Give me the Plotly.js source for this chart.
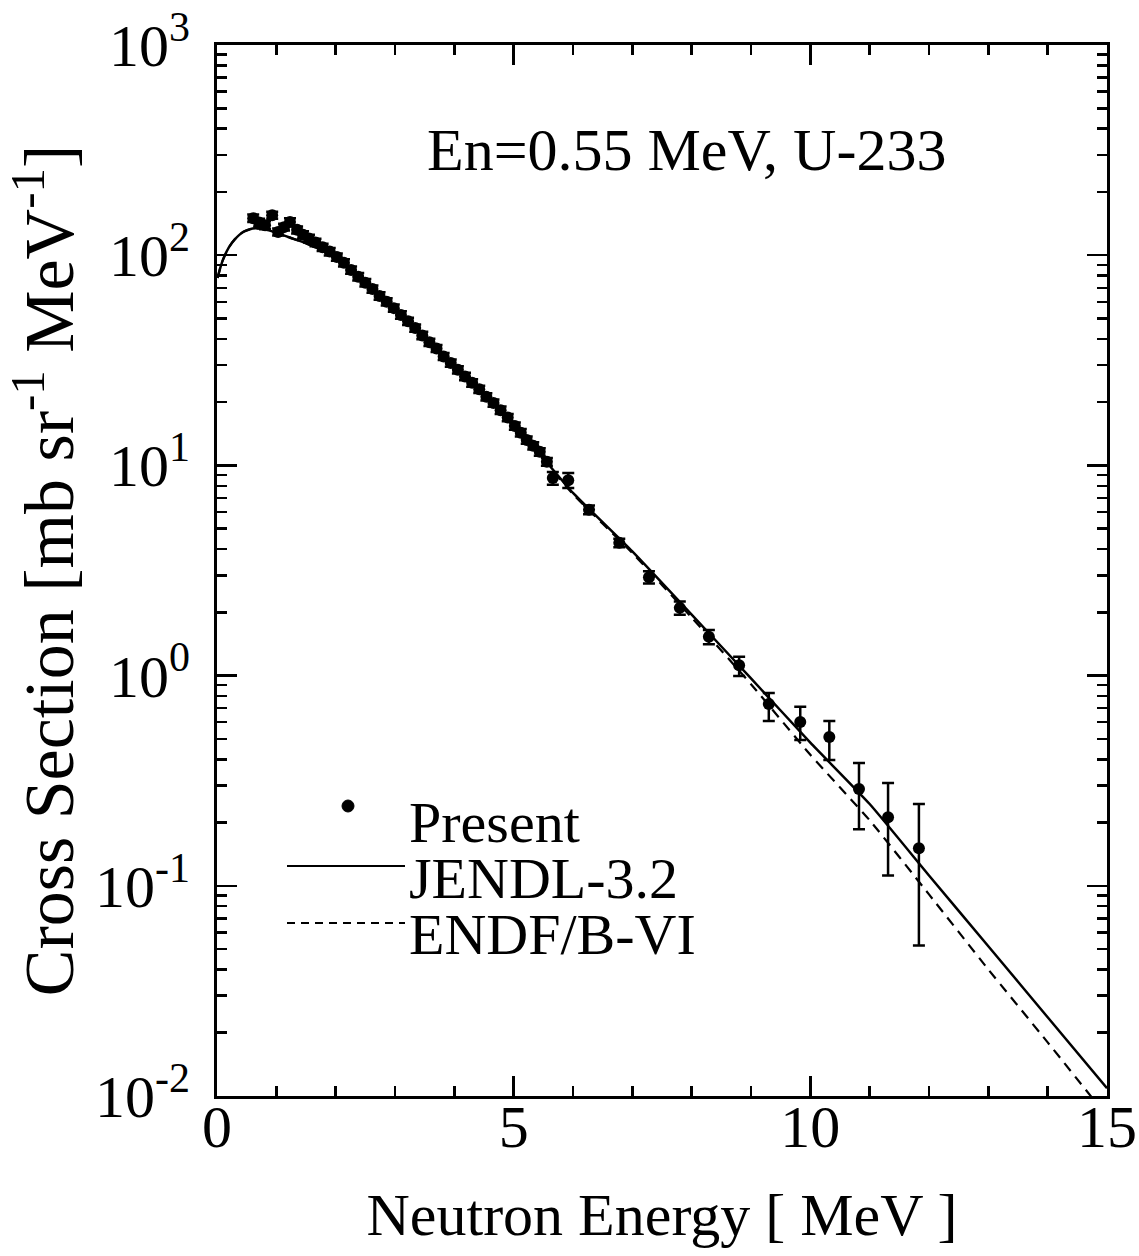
<!DOCTYPE html>
<html>
<head>
<meta charset="utf-8">
<script src="https://cdn.plot.ly/plotly-3.0.1.min.js"></script>
<style>
  html, body { margin: 0; padding: 0; background: #ffffff; }
  #chart { width: 1139px; height: 1256px; }
</style>
</head>
<body>
<div id="chart"></div>
<script>
// ---- Data ----
// Present measurement: neutron energy [MeV]
var presentE = [0.61,0.71,0.81,0.93,1.03,1.13,1.23,1.35,1.45,1.55,
                1.66,1.78,1.90,2.02,2.14,2.26,2.38,2.50,2.62,2.74,
                2.86,2.98,3.10,3.22,3.34,3.46,3.58,3.70,3.82,3.94,
                4.06,4.18,4.30,4.42,4.54,4.66,4.78,4.90,5.02,5.12,
                5.22,5.33,5.44,5.56,5.66,5.92,6.27,6.78,7.28,7.80,
                8.29,8.80,9.30,9.83,10.32,10.82,11.31,11.83];
// Present measurement: cross section [mb/sr/MeV]
var presentXS = [150,143,139,155,129,136,144,132,125,120,
                 115,109,104,98,92,85,79,74,69,64,
                 60,56,52,48.5,45,41.5,38.5,36,33,30.7,
                 28.5,26.5,24.7,23,21.2,19.8,18.3,16.9,15.4,14.3,
                 13.2,12.4,11.6,10.4,8.7,8.5,6.15,4.28,2.94,2.10,
                 1.53,1.12,0.733,0.601,0.510,0.289,0.212,0.151];
var presentErrPlus = [6,6,6,6,5,5,6,5,5,5,
                      4.6,4.4,4.2,3.9,3.7,3.4,3.2,3.0,2.8,2.6,
                      2.4,2.2,2.1,1.9,1.8,1.7,1.5,1.4,1.3,1.2,
                      1.15,1.06,1.0,0.92,0.85,0.8,0.74,0.68,0.62,0.58,
                      0.54,0.5,0.47,0.43,0.6,0.7,0.3,0.2,0.2,0.15,
                      0.12,0.11,0.093,0.11,0.098,0.095,0.096,0.094];
var presentErrMinus = [6,6,6,6,5,5,6,5,5,5,
                       4.6,4.4,4.2,3.9,3.7,3.4,3.2,3.0,2.8,2.6,
                       2.4,2.2,2.1,1.9,1.8,1.7,1.5,1.4,1.3,1.2,
                       1.15,1.06,1.0,0.92,0.85,0.8,0.74,0.68,0.62,0.58,
                       0.54,0.5,0.47,0.43,0.6,0.7,0.3,0.2,0.2,0.15,
                       0.12,0.125,0.125,0.107,0.113,0.103,0.100,0.099];

// Evaluated spectra
var evalE = [0.01,0.05,0.1,0.2,0.3,0.44,0.6,0.8,1.0,1.2,
             1.5,2,2.5,3,3.5,4,4.5,5,5.5,6,
             7,8,9,10,11,12,13,14,15];
var jendlXS = [78,86,95,109,119,129,134,133,128,122,
               114,98,74,56,41,29.5,21.8,15.5,10.8,7.4,
               3.9,1.95,0.97,0.48,0.245,0.112,0.0516,0.0237,0.0109];
var endfXS = [78,86,95,109,119,129,134,133,128,122,
              114,98,74,56,41,29.5,21.8,15.4,10.7,7.3,
              3.83,1.89,0.91,0.42,0.205,0.091,0.040,0.018,0.0080];

// Tick labels
var yTickVals = [0.01, 0.1, 1, 10, 100, 1000];
var yTickText = ['10<sup>-2</sup>','10<sup>-1</sup>','10<sup>0</sup>','10<sup>1</sup>','10<sup>2</sup>','10<sup>3</sup>'];
var xTickVals = [0, 5, 10, 15];
var xTickText = ['0', '5', '10', '15'];

// Legend / annotation texts
var seriesNames = ['Present', 'JENDL-3.2', 'ENDF/B-VI'];
var panelLabel = 'En=0.55 MeV, U-233';

// ---- Plot ----
var FONT = '"Liberation Serif", "Times New Roman", "DejaVu Serif", serif';

var traces = [
  {
    x: evalE, y: endfXS, type: 'scatter', mode: 'lines', name: seriesNames[2],
    line: {color: '#000', width: 2.2, dash: '10px,7px', shape: 'spline', smoothing: 0.5},
    showlegend: false, hoverinfo: 'skip'
  },
  {
    x: evalE, y: jendlXS, type: 'scatter', mode: 'lines', name: seriesNames[1],
    line: {color: '#000', width: 2.5, shape: 'spline', smoothing: 0.5},
    showlegend: false, hoverinfo: 'skip'
  },
  {
    x: presentE, y: presentXS, type: 'scatter', mode: 'markers', name: seriesNames[0],
    marker: {color: '#000', size: 12, symbol: 'circle'},
    error_y: {type: 'data', symmetric: false, array: presentErrPlus, arrayminus: presentErrMinus,
              color: '#000', thickness: 2.5, width: 6},
    showlegend: false
  }
];

var W = 1139, H = 1256;
var L = 217, R = 32, T = 45, B = 160;
var pw = W - L - R, ph = H - T - B;
function px(xp) { return (xp - L) / pw; }
function py(yp) { return (H - B - yp) / ph; }

var layout = {
  width: W, height: H,
  margin: {l: L, r: R, t: T, b: B},
  paper_bgcolor: '#fff', plot_bgcolor: '#fff',
  font: {family: FONT, color: '#000', size: 58},
  showlegend: false,
  xaxis: {
    range: [0, 15],
    tickmode: 'array', tickvals: xTickVals, ticktext: xTickText,
    ticks: 'inside', ticklen: 20, tickwidth: 2.5, tickcolor: '#000',
    minor: {dtick: 1, ticks: 'inside', ticklen: 10, tickwidth: 2.5, tickcolor: '#000', showgrid: false},
    showline: true, linewidth: 3, linecolor: '#000', mirror: 'allticks',
    showgrid: false, zeroline: false,
    tickfont: {family: FONT, size: 60, color: '#000'},
    ticklabelstandoff: -24,
    title: {text: 'Neutron Energy [ MeV ]', font: {family: FONT, size: 60, color: '#000'}, standoff: 34}
  },
  yaxis: {
    type: 'log', range: [-2, 3],
    tickmode: 'array', tickvals: yTickVals, ticktext: yTickText,
    ticks: 'inside', ticklen: 20, tickwidth: 2.5, tickcolor: '#000',
    minor: {dtick: 'D1', ticks: 'inside', ticklen: 10, tickwidth: 2.5, tickcolor: '#000', showgrid: false},
    showline: true, linewidth: 3, linecolor: '#000', mirror: 'allticks',
    showgrid: false, zeroline: false,
    tickfont: {family: FONT, size: 60, color: '#000'},
    ticklabelstandoff: 12,
    title: {text: 'Cross Section [mb sr<sup>-1</sup> MeV<sup>-1</sup>]', font: {family: FONT, size: 70, color: '#000'}, standoff: 2}
  },
  annotations: [
    {xref: 'paper', yref: 'paper', x: px(686), y: py(150), xanchor: 'center', yanchor: 'middle',
     text: panelLabel, showarrow: false, font: {family: FONT, size: 60, color: '#000'}},
    {xref: 'paper', yref: 'paper', x: px(407), y: py(822), xanchor: 'left', yanchor: 'middle',
     text: seriesNames[0], showarrow: false, font: {family: FONT, size: 58, color: '#000'}},
    {xref: 'paper', yref: 'paper', x: px(407), y: py(878), xanchor: 'left', yanchor: 'middle',
     text: seriesNames[1], showarrow: false, font: {family: FONT, size: 58, color: '#000'}},
    {xref: 'paper', yref: 'paper', x: px(407), y: py(934), xanchor: 'left', yanchor: 'middle',
     text: seriesNames[2], showarrow: false, font: {family: FONT, size: 58, color: '#000'}}
  ],
  shapes: [
    {type: 'circle', xref: 'paper', yref: 'paper', x0: px(342), x1: px(354), y0: py(812), y1: py(800),
     fillcolor: '#000', line: {color: '#000', width: 1}},
    {type: 'line', xref: 'paper', yref: 'paper', x0: px(287), x1: px(405), y0: py(866), y1: py(866),
     line: {color: '#000', width: 2}},
    {type: 'line', xref: 'paper', yref: 'paper', x0: px(287), x1: px(405), y0: py(923), y1: py(923),
     line: {color: '#000', width: 1.8, dash: '8px,6px'}}
  ]
};

Plotly.newPlot('chart', traces, layout, {staticPlot: true, displayModeBar: false});
</script>
</body>
</html>
